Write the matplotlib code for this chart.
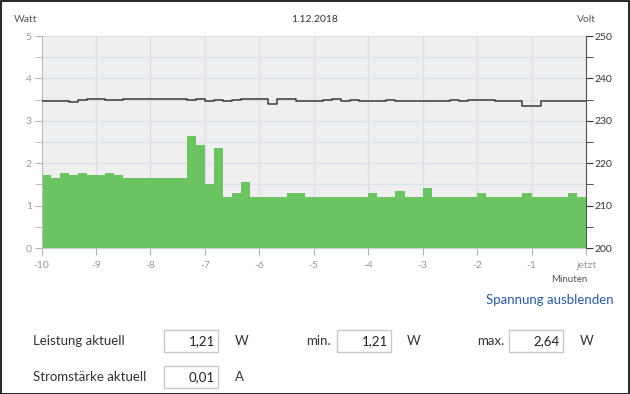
import matplotlib
matplotlib.use("Agg")
import matplotlib.pyplot as plt
from matplotlib.patches import Rectangle

plt.rcParams['font.family'] = ['Lato', 'DejaVu Sans']

# ---- data ----
title = "1.12.2018"
watts = [1.71, 1.64, 1.78, 1.71, 1.78, 1.71, 1.71, 1.78, 1.71,
         1.64, 1.64, 1.64, 1.64, 1.64, 1.64, 1.64,
         2.64, 2.43, 1.51, 2.37, 1.21, 1.29, 1.56,
         1.21, 1.21, 1.21, 1.21, 1.29, 1.29,
         1.21, 1.21, 1.21, 1.21, 1.21, 1.21, 1.21,
         1.29, 1.21, 1.21, 1.34, 1.21, 1.21, 1.42,
         1.21, 1.21, 1.21, 1.21, 1.21, 1.29,
         1.21, 1.21, 1.21, 1.21, 1.29, 1.21, 1.21, 1.21, 1.21, 1.29, 1.21]
volts = [234.7, 234.7, 234.7, 234.5, 234.9, 235.1, 235.1, 234.9, 234.9,
         235.1, 235.1, 235.1, 235.1, 235.1, 235.1, 235.1,
         234.9, 235.1, 234.7, 234.9, 234.7, 234.9,
         235.1, 235.1, 235.1, 234.0, 235.1, 235.1,
         234.7, 234.7, 234.7, 234.9, 235.1, 234.7, 234.9,
         234.6, 234.6, 234.6, 234.8,
         234.6, 234.6, 234.6, 234.6, 234.6, 234.6, 234.8, 234.6, 234.9,
         234.8, 234.8, 234.6, 234.6, 234.6, 233.6, 233.6,
         234.6, 234.6, 234.6, 234.6, 234.6]
x_ticks = [-10, -9, -8, -7, -6, -5, -4, -3, -2, -1, 0]
x_ticklabels = ['-10', '-9', '-8', '-7', '-6', '-5', '-4', '-3', '-2', '-1', 'jetzt']
w_ticks = [0, 1, 2, 3, 4, 5]
v_ticks = [200, 210, 220, 230, 240, 250]
form_rows = [("Leistung aktuell", "1,21", "W"), ("Stromstärke aktuell", "0,01", "A")]
min_val, max_val = "1,21", "2,64"

W, H = 630, 394
fig = plt.figure(figsize=(W / 100, H / 100), dpi=100)

def fx(px):
    return px / W

def fy(py):
    return 1 - py / H

# border
fig.patches.append(Rectangle((0.0008, 0.001), 0.9984, 0.997, transform=fig.transFigure,
                             fill=False, edgecolor='black', linewidth=1.2))

L, R, T, B = 41.5, 586, 36, 248
ax = fig.add_axes([fx(L), fy(B), fx(R - L), (B - T) / H])
ax.set_facecolor('#efefef')

n = len(watts)
step = 10 / n
lefts = [-10 + i * step for i in range(n)]
edges = lefts + [0]
ax.fill_between(edges, watts + [watts[-1]], 0, step='post', color='#6cc362',
                linewidth=0, zorder=2)
ax.set_xlim(-10, 0)
ax.set_ylim(0, 5)

ax.set_xticks(x_ticks)
ax.set_xticklabels(x_ticklabels)
ax.set_yticks(w_ticks)
ax.set_yticks([0.5, 1.5, 2.5, 3.5, 4.5], minor=True)
ax.grid(True, which='both', axis='y', color='#dbe1e6', linewidth=1, zorder=1)
ax.grid(True, which='major', axis='x', color='#dbe1e6', linewidth=1, zorder=1)
ax.set_axisbelow(True)
ax.tick_params(axis='x', colors='#b0b0b0', labelcolor='#999999', labelsize=7.5, length=5, pad=4)
ax.tick_params(axis='y', which='both', colors='#b0b0b0', labelcolor='#999999', labelsize=7.5, length=5, pad=2)
for s in ['top', 'right']:
    ax.spines[s].set_visible(False)
ax.spines['left'].set_color('#b5c0c0')
ax.spines['bottom'].set_color('#c8d0d0')

ax2 = ax.twinx()
ax2.step(edges, volts + [volts[-1]], where='post', color='#3a3a3a', linewidth=1.1, zorder=3)
ax2.set_ylim(200, 250)
ax2.set_yticks(v_ticks)
ax2.set_yticks([205, 215, 225, 235, 245], minor=True)
ax2.tick_params(axis='y', which='both', colors='#333333', labelcolor='#333333', labelsize=7.5, length=5, pad=1)
for s in ['top', 'left', 'bottom']:
    ax2.spines[s].set_visible(False)
ax2.spines['right'].set_color('#555555')

# labels
fig.text(fx(14), fy(19), "Watt", fontsize=7.5, color='#555555', ha='left', va='center')
fig.text(fx(315), fy(19), title, fontsize=7.5, color='#333333', ha='center', va='center')
fig.text(fx(577), fy(19), "Volt", fontsize=7.5, color='#555555', ha='left', va='center')
fig.text(fx(587), fy(279), "Minuten", fontsize=7, color='#555555', ha='right', va='center')
fig.text(fx(614), fy(300), "Spannung ausblenden", fontsize=9.5, color='#2b5ba3', ha='right', va='center')

def box(x0, y0, w, h, val):
    fig.patches.append(Rectangle((fx(x0), fy(y0 + h)), w / W, h / H, transform=fig.transFigure,
                                 facecolor='white', edgecolor='#c8c8c8', linewidth=1))
    fig.text(fx(x0 + w - 3), fy(y0 + h / 2), val, fontsize=9.5, color='#222222', ha='right', va='center')

rows_y = [341, 377]
for (label, val, unit), yy in zip(form_rows, rows_y):
    fig.text(fx(33), fy(yy), label, fontsize=9.5, color='#333333', ha='left', va='center')
    box(164, yy - 11, 54, 22, val)
    fig.text(fx(235), fy(yy), unit, fontsize=9.5, color='#333333', ha='left', va='center')

fig.text(fx(306), fy(341), "min.", fontsize=9.5, color='#333333', ha='left', va='center')
box(337, 330, 54, 22, min_val)
fig.text(fx(407), fy(341), "W", fontsize=9.5, color='#333333', ha='left', va='center')
fig.text(fx(477), fy(341), "max.", fontsize=9.5, color='#333333', ha='left', va='center')
box(509, 330, 54, 22, max_val)
fig.text(fx(580), fy(341), "W", fontsize=9.5, color='#333333', ha='left', va='center')

fig.savefig("out.png", dpi=100)
